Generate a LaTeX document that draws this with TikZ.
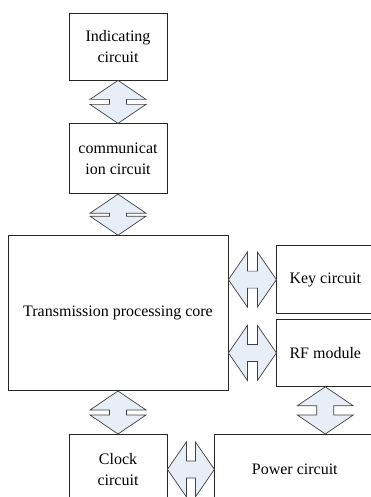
\documentclass[tikz,border=0pt]{standalone}
\usepackage{fontspec}
\setmainfont{Liberation Serif}
\usetikzlibrary{positioning}
\usetikzlibrary{calc}
\definecolor{linkfill}{HTML}{E8EEF8}
\tikzset{%
	% Specifications for style of nodes:
	block/.style = {rectangle, draw=black!85, line width=0.8pt,
		inner sep=2pt, text centered, align=center,
		font=\fontsize{16}{21.5}\selectfont},
	unit/.style = {block, minimum width=98pt, minimum height=68pt},
	side/.style = {block, minimum width=97pt, minimum height=68pt},
	link/.style = {draw=black!75, line width=0.7pt, fill=linkfill, line join=miter},
}
% double block arrow, top point #1 down to bottom point #2
\newcommand{\vlink}[2]{%
	\draw[link] let \p1=(#1), \p2=(#2), \n1={\y1-\y2-38pt} in
		(\p1) -- ++(28pt,-19pt) -- ++(-19.5pt,0) -- ++(0,-\n1) -- ++(19.5pt,0)
		-- (\p2) -- ++(-28pt,19pt) -- ++(19.5pt,0) -- ++(0,\n1) -- ++(-19.5pt,0) -- cycle;
}
% double block arrow, left point #1 across to right point #2
\newcommand{\hlink}[2]{%
	\draw[link] let \p1=(#1), \p2=(#2), \n1={\x2-\x1-38pt} in
		(\p1) -- ++(19pt,27.5pt) -- ++(0,-19pt) -- ++(\n1,0) -- ++(0,19pt)
		-- (\p2) -- ++(-19pt,-27.5pt) -- ++(0,19pt) -- ++(-\n1,0) -- ++(0,-19pt) -- cycle;
}
\begin{document}
\begin{tikzpicture}[x=1pt, y=-1pt]
\useasboundingbox (0,0) rectangle (371,497);
\clip (0,0) rectangle (371,497);

\node (ind) [unit, minimum height=67pt] at (118,46.5) {Indicating\\circuit};
\node (comm) [unit, minimum height=70pt, below=43pt of ind] {communicat\\ion circuit};
\node (core) [block, minimum width=220pt, minimum height=155pt, below=41pt of comm] {Transmission processing core};
\node (key) [side, right=48pt of core.north east, anchor=north west, yshift=-10pt] {Key circuit};
\node (rf) [side, minimum height=67pt, below=5pt of key] {RF module};
\node (clock) [unit, minimum height=70pt, below=43pt of core] {Clock\\circuit};
\node (power) [block, minimum width=160pt, minimum height=70pt, right=47pt of clock] {Power circuit};

\vlink{ind.south}{comm.north}
\vlink{comm.south}{core.north}
\vlink{core.south}{clock.north}
\vlink{rf.south}{rf.south |- power.north}
\hlink{core.east |- key.west}{key.west}
\hlink{core.east |- rf.west}{rf.west}
\hlink{clock.east}{power.west}
\end{tikzpicture}
\end{document}
